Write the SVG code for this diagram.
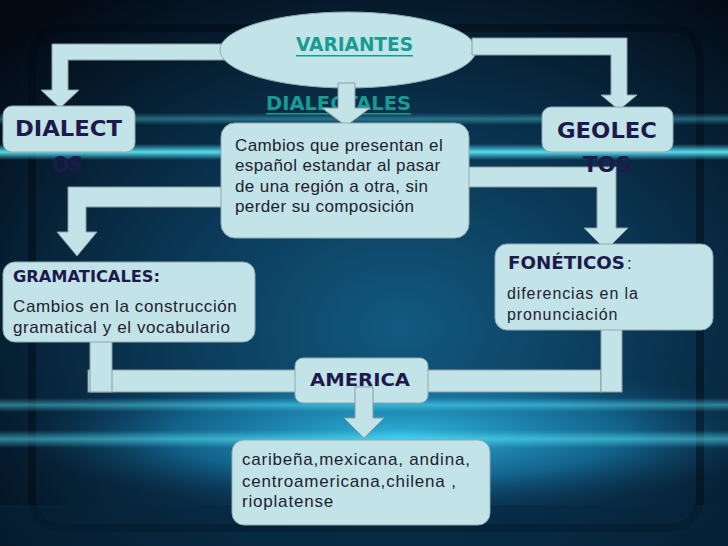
<svg xmlns="http://www.w3.org/2000/svg" width="728" height="546" viewBox="0 0 728 546">
<defs>
<radialGradient id="bg" cx="0.55" cy="0.6" r="0.75">
<stop offset="0" stop-color="#125a80"/>
<stop offset="0.45" stop-color="#0a3654"/>
<stop offset="1" stop-color="#030a14"/>
</radialGradient>
<linearGradient id="streak" x1="0" y1="0" x2="0" y2="1">
<stop offset="0" stop-color="#4fe6ff" stop-opacity="0"/>
<stop offset="0.5" stop-color="#5ff0ff" stop-opacity="1"/>
<stop offset="1" stop-color="#4fe6ff" stop-opacity="0"/>
</linearGradient>
<radialGradient id="glow" cx="0.5" cy="0.5" r="0.5">
<stop offset="0" stop-color="#35c8ef" stop-opacity="0.85"/>
<stop offset="0.6" stop-color="#1c90c4" stop-opacity="0.5"/>
<stop offset="1" stop-color="#0c4a70" stop-opacity="0"/>
</radialGradient>
<style>
.box{fill:#c2e3e7;stroke:#8fa9ae;stroke-width:1}
.con{fill:#c2e3e7;stroke:#8d9ca0;stroke-width:1}
.body{font-family:"Liberation Sans",Arial,sans-serif;fill:#1e2230}
.deco{font-family:"DejaVu Sans",sans-serif;font-weight:bold;fill:#1d1a4b}
.teal{font-family:"DejaVu Sans",sans-serif;font-weight:bold;fill:#179c94}
</style>
</defs>

<!-- background -->
<rect width="728" height="546" fill="url(#bg)"/>
<ellipse cx="400" cy="435" rx="380" ry="75" fill="url(#glow)"/>
<rect x="32" y="28" width="668" height="500" rx="30" fill="none" stroke="#020812" stroke-width="8" opacity="0.45"/>
<rect x="0" y="113" width="728" height="12" fill="url(#streak)" opacity="0.35"/>
<rect x="0" y="144" width="728" height="16" fill="url(#streak)" opacity="0.9"/>
<rect x="0" y="398" width="728" height="14" fill="url(#streak)" opacity="0.45"/>
<rect x="0" y="430" width="728" height="18" fill="url(#streak)" opacity="0.5"/>
<rect x="0" y="505" width="728" height="41" fill="#06263d" opacity="0.5"/>

<!-- connectors behind nodes -->
<g id="connectors-back">
<polygon class="con" points="235,44 52,44 52,90 41,90 60,108 79,90 68,90 68,60 235,60"/>
<polygon class="con" points="230,187 68,187 68,232 57,232 77,256 97,232 86,232 86,207 230,207"/>
<polygon class="con" points="460,167 616,167 616,228 628,228 606,250 584,228 597,228 597,187 460,187"/>
<rect class="con" x="88" y="370" width="513" height="22"/>
<rect class="con" x="90" y="335" width="22" height="57"/>
<rect class="con" x="601" y="320" width="21" height="72"/>
</g>

<g id="variantes">
<ellipse class="box" cx="348" cy="50" rx="128" ry="38"/>
<text class="teal" x="296" y="51" font-size="19" textLength="117" lengthAdjust="spacingAndGlyphs">VARIANTES</text>
<rect x="296" y="55" width="117" height="1.5" fill="#179c94"/>
</g>

<g id="dialectales-label">
<text class="teal" x="266" y="110" font-size="19" textLength="145" lengthAdjust="spacingAndGlyphs">DIALECTALES</text>
<rect x="266" y="113" width="145" height="1.5" fill="#179c94"/>
</g>

<g id="connectors-front">
<polygon class="con" points="472,38 627,38 627,95 637,95 619,110 601,95 611,95 611,55 472,55"/>
<polygon class="con" points="338,83 355,83 355,108 370,108 346,126 322,108 338,108"/>
</g>

<g id="dialectos">
<rect class="box" x="3" y="106" width="132" height="46" rx="9"/>
<text class="deco" x="15" y="136" font-size="22" textLength="107" lengthAdjust="spacingAndGlyphs">DIALECT</text>
<text class="deco" x="52" y="172" font-size="22" textLength="31" lengthAdjust="spacingAndGlyphs">OS</text>
</g>

<g id="geolectos">
<rect class="box" x="542" y="107" width="131" height="45" rx="9"/>
<text class="deco" x="557" y="138" font-size="22" textLength="100" lengthAdjust="spacingAndGlyphs">GEOLEC</text>
<text class="deco" x="583" y="172" font-size="22" textLength="48" lengthAdjust="spacingAndGlyphs">TOS</text>
</g>

<g id="definicion">
<rect class="box" x="221" y="123" width="248" height="115" rx="14"/>
<text class="body" font-size="17" letter-spacing="0.4">
<tspan x="235" y="151">Cambios que presentan el</tspan>
<tspan x="235" y="171">español estandar al pasar</tspan>
<tspan x="235" y="192">de una región a otra, sin</tspan>
<tspan x="235" y="212">perder su composición</tspan>
</text>
</g>

<g id="gramaticales">
<rect class="box" x="3" y="262" width="252" height="80" rx="12"/>
<text class="deco" x="13" y="282" font-size="16" textLength="147" lengthAdjust="spacingAndGlyphs">GRAMATICALES:</text>
<text class="body" font-size="17" letter-spacing="0.6">
<tspan x="13" y="312">Cambios en la construcción</tspan>
<tspan x="13" y="333">gramatical y el vocabulario</tspan>
</text>
</g>

<g id="foneticos">
<rect class="box" x="495" y="244" width="218" height="86" rx="12"/>
<text class="deco" x="508" y="269" font-size="17" textLength="117" lengthAdjust="spacingAndGlyphs">FONÉTICOS</text>
<text class="body" x="627" y="269" font-size="17">:</text>
<text class="body" font-size="16" letter-spacing="0.9">
<tspan x="507" y="299">diferencias en la</tspan>
<tspan x="507" y="320">pronunciación</tspan>
</text>
</g>

<g id="america">
<rect class="box" x="295" y="358" width="133" height="45" rx="8"/>
<text class="deco" x="310" y="386" font-size="17" textLength="100" lengthAdjust="spacingAndGlyphs">AMERICA</text>
</g>

<g id="connector-america">
<polygon class="con" points="355,387 373,387 373,418 384,418 364,438 344,418 355,418"/>
</g>

<g id="regiones">
<rect class="box" x="232" y="440" width="258" height="85" rx="12"/>
<text class="body" font-size="17" letter-spacing="0.8">
<tspan x="242" y="465">caribeña,mexicana, andina,</tspan>
<tspan x="242" y="487">centroamericana,chilena ,</tspan>
<tspan x="242" y="507">rioplatense</tspan>
</text>
</g>
</svg>
